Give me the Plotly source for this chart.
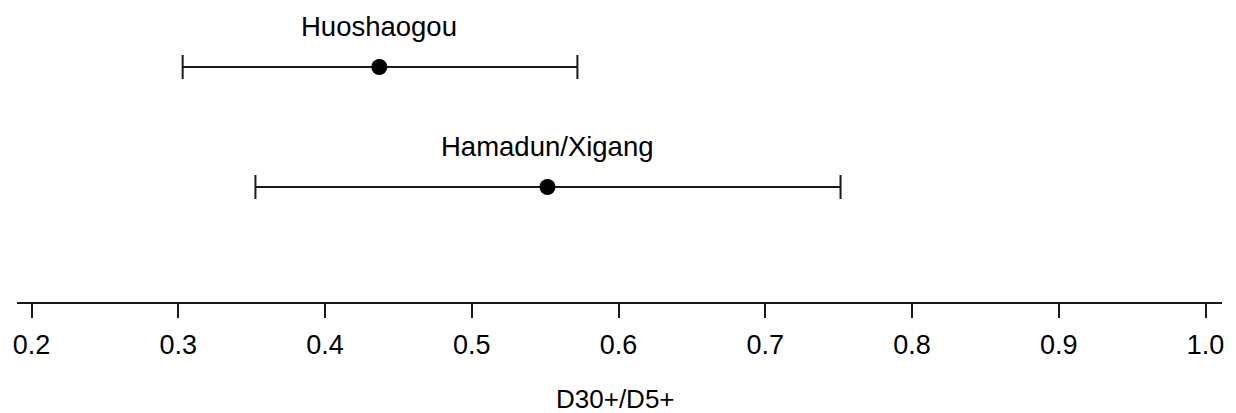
import plotly.graph_objects as go

sites = ["Huoshaogou", "Hamadun/Xigang"]
ratio = [0.437, 0.5516]
lower = [0.303, 0.3526]
upper = [0.572, 0.7513]
ypos = [2, 1]
tick_vals = [0.2, 0.3, 0.4, 0.5, 0.6, 0.7, 0.8, 0.9, 1.0]
tick_text = ["0.2", "0.3", "0.4", "0.5", "0.6", "0.7", "0.8", "0.9", "1.0"]

FONT = "Liberation Sans, Arial, sans-serif"

fig = go.Figure()
fig.add_trace(go.Scatter(
    x=ratio, y=ypos, mode="markers",
    marker=dict(size=16, color="black"),
    error_x=dict(type="data", symmetric=False,
                 array=[u - r for u, r in zip(upper, ratio)],
                 arrayminus=[r - l for r, l in zip(ratio, lower)],
                 color="#1a1a1a", thickness=2, width=12),
    showlegend=False, hoverinfo="skip",
))

for s, r, y in zip(sites, ratio, ypos):
    fig.add_annotation(x=r, y=y, text=s, showarrow=False, yshift=41,
                       yanchor="middle", xanchor="center",
                       font=dict(family=FONT, size=27.5, color="black"))

fig.add_annotation(xref="paper", yref="paper", x=(615 - 17) / 1205, y=0, yshift=-97,
                   text="D30+/D5+", showarrow=False, yanchor="middle",
                   font=dict(family=FONT, size=26, color="black"))

px_per_unit = 1467.5
fig.update_layout(
    width=1236, height=413,
    margin=dict(l=17, r=14, t=0, b=111),
    paper_bgcolor="white", plot_bgcolor="white",
    xaxis=dict(range=[0.2 - 14.5 / px_per_unit, 1.0 + 16.5 / px_per_unit],
               tickvals=tick_vals, ticktext=tick_text,
               ticks="outside", ticklen=14, tickwidth=2, tickcolor="#1a1a1a",
               showline=True, linewidth=2, linecolor="#1a1a1a",
               showgrid=False, zeroline=False, ticklabelstandoff=4,
               tickfont=dict(family=FONT, size=27, color="black")),
    yaxis=dict(range=[1 - 115 / 120, 1 - 115 / 120 + 302 / 120],
               visible=False, showgrid=False, zeroline=False),
)

fig.write_html("out.html")
